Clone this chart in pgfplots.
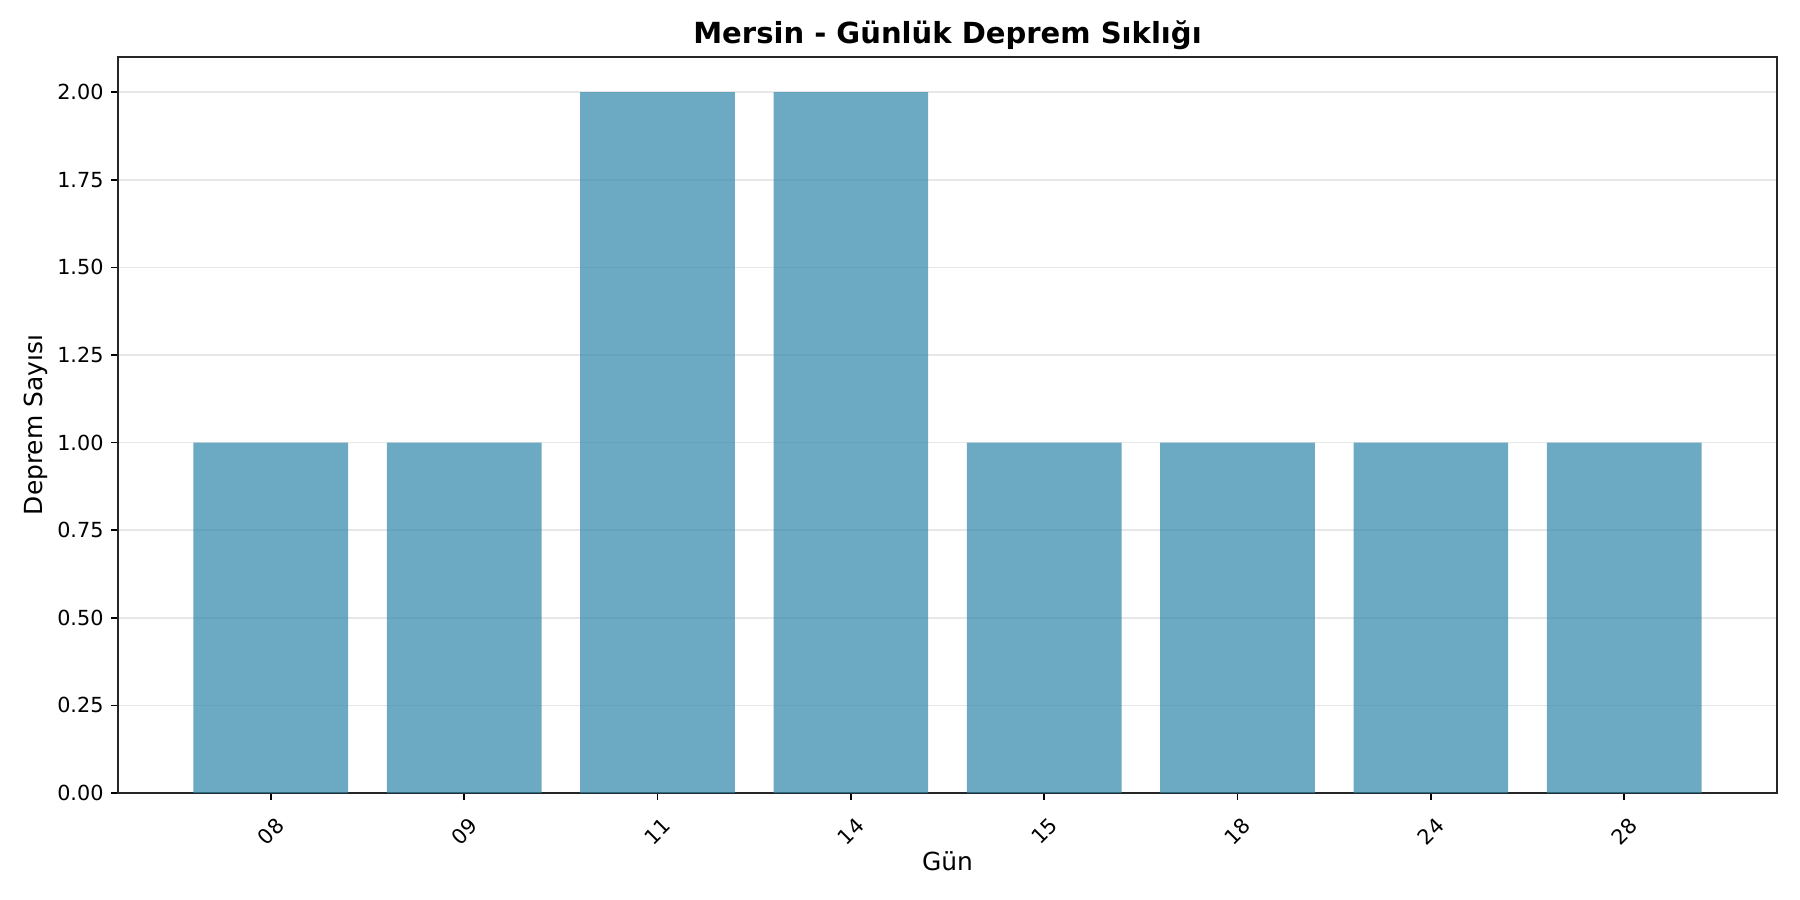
\documentclass[border=0pt]{standalone}
\usepackage{fontspec}
\setmainfont{DejaVu Sans}
\usepackage{pgfplots}
\pgfplotsset{compat=1.18}

\definecolor{barblue}{HTML}{2E86AB}
\definecolor{gridgray}{HTML}{B0B0B0}

\begin{document}
\begin{tikzpicture}
  \begin{axis}[
    name=ax,
    scale only axis,
    width=799.3pt,
    height=354.6pt,
    xmin=-0.79, xmax=7.79,
    ymin=0, ymax=2.1,
    xtick={0,...,7},
    xticklabels={08,09,11,14,15,18,24,28},
    ytick={0,0.25,...,2.0},
    yticklabel style={/pgf/number format/.cd,fixed,fixed zerofill,precision=2},
    /pgf/number format/assume math mode=true,
    tick label style={font=\fontsize{10}{12}\selectfont},
    xticklabel style={yshift=-15pt, rotate=45, anchor=center},
    tick align=outside,
    tick pos=left,
    major tick length=3.5pt,
    tick style={black, line width=0.8pt},
    axis line style={line width=0.8pt, black!85},
    ymajorgrids,
    grid style={gridgray, opacity=0.3, line width=0.8pt},
    axis on top=false,
    xlabel={Gün},
    ylabel={Deprem Sayısı},
    label style={font=\fontsize{12}{14}\selectfont},
    xlabel style={at={(axis description cs:0.5,0)}, anchor=center, yshift=-32.8pt},
    ylabel style={at={(axis description cs:0,0.5)}, anchor=center, rotate=0, yshift=39.5pt},
    title={Mersin - Günlük Deprem Sıklığı},
    title style={font=\fontsize{14}{17}\selectfont\bfseries, at={(axis description cs:0.5,1)}, anchor=center, yshift=4.3pt},
  ]
    \addplot[ybar, bar width=0.8, bar shift=0pt, draw=none, fill=barblue, fill opacity=0.7]
      coordinates {(0,1) (1,1) (2,2) (3,2) (4,1) (5,1) (6,1) (7,1)};
  \end{axis}
  \pgfresetboundingbox
  \path[use as bounding box] ([xshift=-56.9pt,yshift=-51.5pt]ax.south west) rectangle ([xshift=11.1pt,yshift=27.5pt]ax.north east);
\end{tikzpicture}
\end{document}
